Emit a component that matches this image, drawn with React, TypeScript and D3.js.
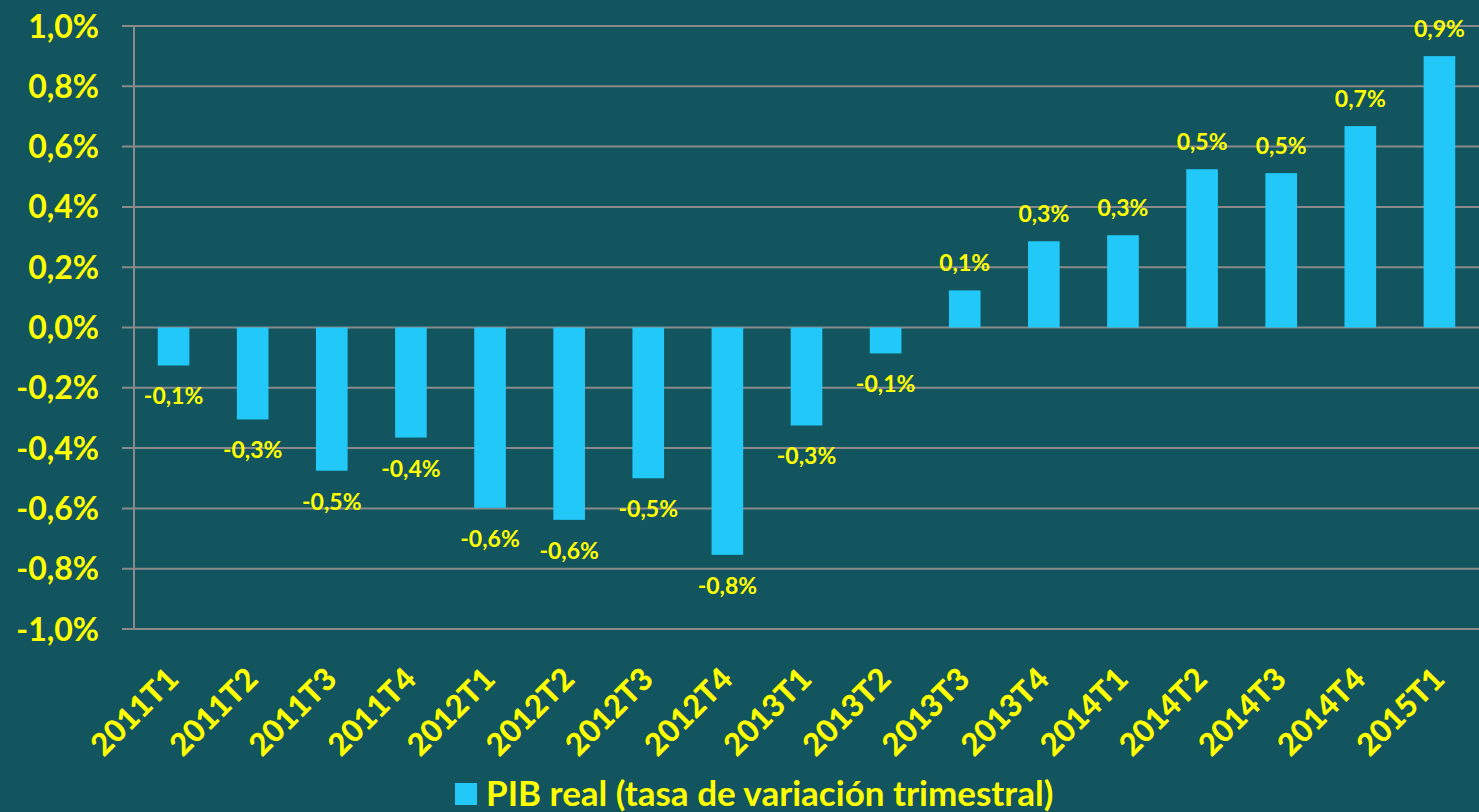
import React from 'react';
import * as d3 from 'd3';

const categories = ['2011T1', '2011T2', '2011T3', '2011T4', '2012T1', '2012T2', '2012T3', '2012T4',
    '2013T1', '2013T2', '2013T3', '2013T4', '2014T1', '2014T2', '2014T3', '2014T4', '2015T1'];
const pibValues = [-0.126, -0.305, -0.475, -0.365, -0.598, -0.638, -0.50, -0.754,
    -0.325, -0.086, 0.123, 0.286, 0.306, 0.525, 0.512, 0.668, 0.90];
const yTicks = [-1.0, -0.8, -0.6, -0.4, -0.2, 0, 0.2, 0.4, 0.6, 0.8, 1.0];
const legendLabel = 'PIB real (tasa de variación trimestral)';

const W = 1479, H = 812;
const bg = '#12555F';
const barColor = '#21C8F8';
const yellow = '#FFFF00';
const font = 'Lato, "Open Sans", sans-serif';

const fmt = (v: number, d: number) => v.toFixed(d).replace('.', ',') + '%';

function App() {
    const margin = { top: 26, right: 0, bottom: 183, left: 134 };

    const x = d3.scaleBand()
        .domain(categories)
        .range([margin.left, W - margin.right])
        .paddingInner(0.6)
        .paddingOuter(0.3);

    const y = d3.scaleLinear()
        .domain([-1, 1])
        .range([H - margin.bottom, margin.top]);

    return (
        <svg width={W} height={H} style={{ position: 'absolute', left: 0, top: 0, background: bg }}>
            <rect x={0} y={0} width={W} height={H} fill={bg} />
            {/* gridlines + y labels */}
            {yTicks.map(t => (
                <g key={t}>
                    <line x1={margin.left - 12} x2={W} y1={y(t)} y2={y(t)} stroke="#8A8A8A" strokeWidth={2} />
                    <text x={99} y={y(t)} dy="0.36em" textAnchor="end" fill={yellow}
                        fontFamily={font} fontWeight="bold" fontSize={32}>{fmt(t, 1)}</text>
                </g>
            ))}
            <line x1={margin.left} x2={margin.left} y1={y(1)} y2={y(-1)} stroke="#8A8A8A" strokeWidth={2} />

            {/* bars */}
            {categories.map((c, i) => {
                const v = pibValues[i];
                const y0 = y(Math.max(0, v)), y1 = y(Math.min(0, v));
                const cx = x(c)! + x.bandwidth() / 2;
                return (
                    <g key={c}>
                        <rect x={x(c)} y={y0} width={x.bandwidth()} height={y1 - y0} fill={barColor} />
                        <text x={cx} y={v >= 0 ? y0 - 19 : y1 + 39} textAnchor="middle" fill={yellow}
                            fontFamily={font} fontWeight="bold" fontSize={23}>{fmt(v, 1)}</text>
                    </g>
                );
            })}

            {/* x labels */}
            {categories.map(c => {
                const cx = x(c)! + x.bandwidth() / 2 + 7;
                return (
                    <text key={c} transform={`translate(${cx},681) rotate(-45)`} textAnchor="end"
                        fill={yellow} fontFamily={font} fontWeight="900" fontSize={31}>{c}</text>
                );
            })}

            {/* legend */}
            <rect x={455} y={783} width={22} height={22} fill={barColor} />
            <text x={486} y={806} fill={yellow} fontFamily={font} fontWeight="bold" fontSize={35}>{legendLabel}</text>
        </svg>
    );
}

export default App;
